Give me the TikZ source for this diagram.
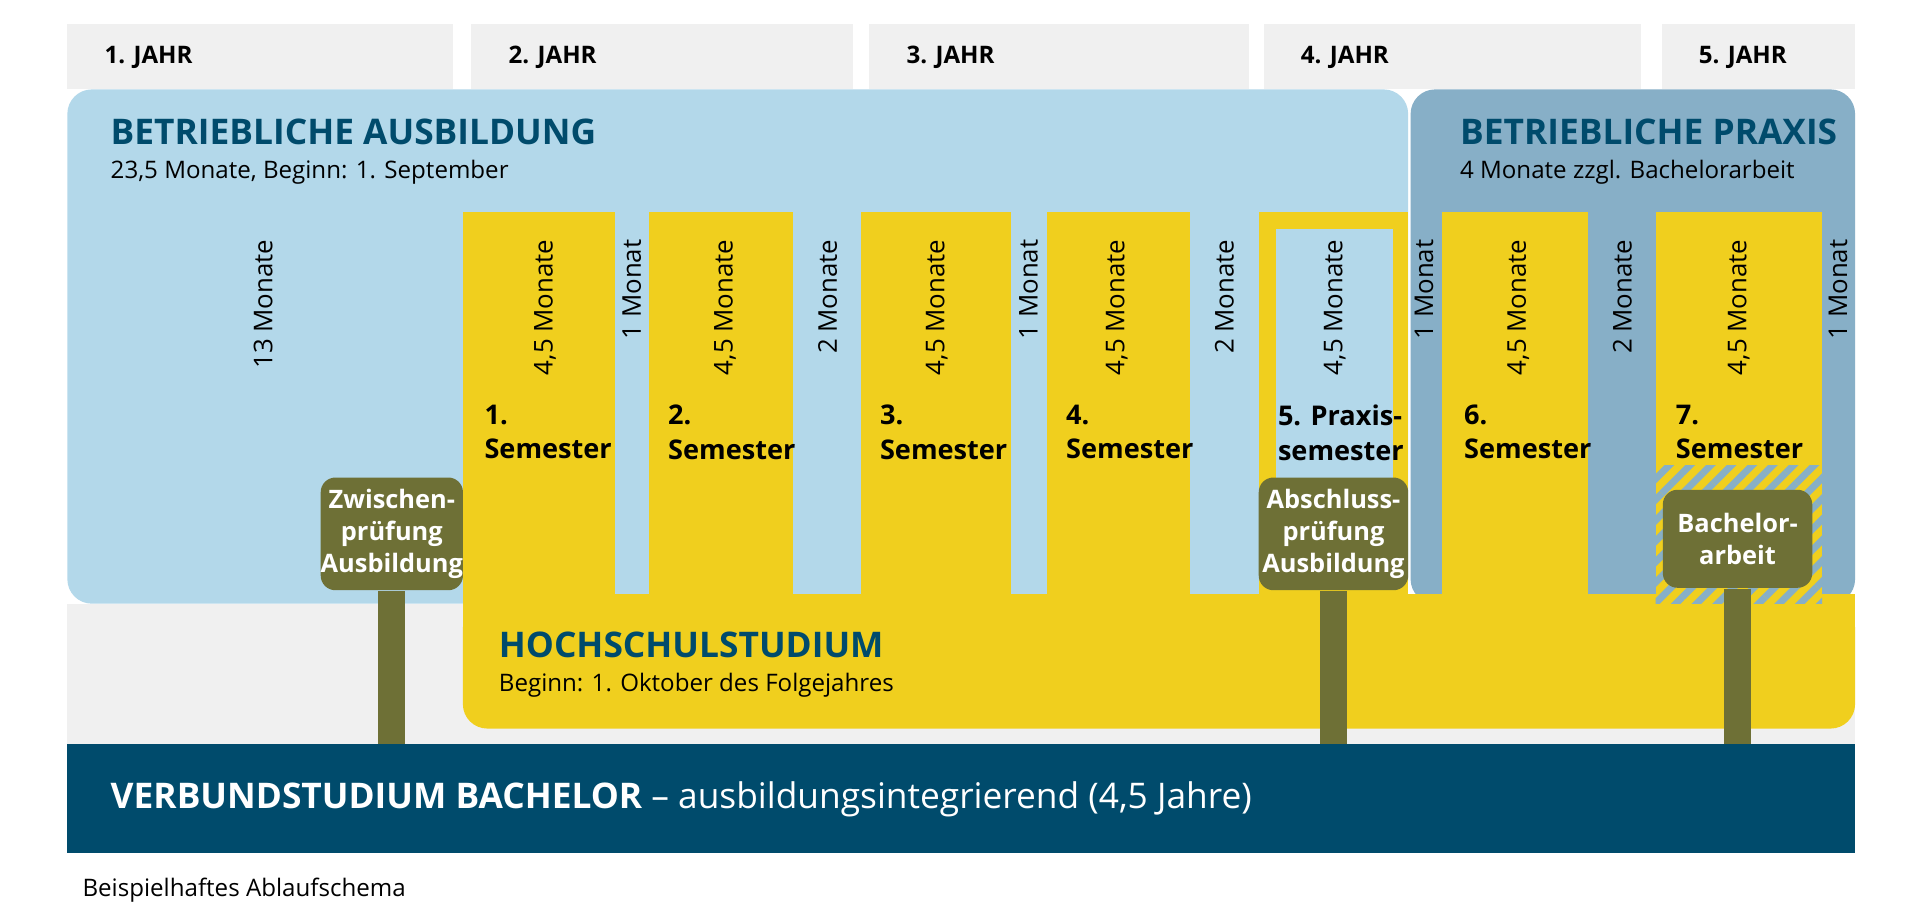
\documentclass[tikz,border=0pt]{standalone}
\usepackage{fontspec}
\setmainfont{Open Sans}
\usetikzlibrary{patterns.meta}
\definecolor{grayhd}{HTML}{F0F0F0}
\definecolor{lblue}{HTML}{B3D8EA}
\definecolor{dblue}{HTML}{87AFC7}
\definecolor{yell}{HTML}{F0CF1E}
\definecolor{olive}{HTML}{6E7036}
\definecolor{navy}{HTML}{004B6C}
\tikzset{
  year/.style={anchor=west,font=\fontsize{5.6}{6.5}\selectfont\bfseries},
  title/.style={anchor=west,text=navy,font=\fontsize{8.2}{9}\selectfont\bfseries},
  sub/.style={anchor=west,font=\fontsize{5.6}{6.5}\selectfont},
  dur/.style={rotate=90,anchor=east,inner sep=0pt,font=\fontsize{6}{7}\selectfont},
  sem/.style={anchor=north west,align=left,inner sep=0pt,font=\fontsize{6.3}{8}\selectfont\bfseries},
  exam/.style={fill=olive,rounded corners=0.12cm,text=white,align=center,inner sep=0pt,
    font=\fontsize{5.9}{7.4}\selectfont\bfseries},
  stem/.style={olive,line width=0.22cm},
}
\begin{document}
\begin{tikzpicture}[x=0.01cm,y=-0.01cm]
\useasboundingbox[fill=white] (0,0) rectangle (1568,745.6);
% years
\foreach \a/\b/\t in {55/370/1,385/697/2,710/1020/3,1032/1340/4,1357/1515/5}{
  \fill[grayhd] (\a,20) rectangle (\b,73);
  \node[year] (y\t) at (\a+18,47) {\t. JAHR};
}
\fill[grayhd] (55,493) rectangle (1515,608);
% ausbildung / praxis
\fill[lblue,rounded corners=0.2cm] (55,493) -- (55,73) -- (1150,73) -- (1150,493) -- cycle;
\fill[dblue,rounded corners=0.2cm] (1152,493) -- (1152,73) -- (1515,73) -- (1515,493) -- cycle;
\fill[lblue] (1140,173) rectangle (1150,493);
% hochschulstudium
\fill[yell,rounded corners=0.2cm] (378,493) -- (378,595) -- (1515,595) -- (1515,493) -- cycle;
\fill[yell] (378,485) rectangle (1515,520);
\foreach \a/\b in {378/502,530/648,703/826,855/972,1028/1150,1178/1297,1352/1488}
  \fill[yell] (\a,173) rectangle (\b,493);
\fill[lblue] (1042,187) rectangle (1138,400);
% hatch
\pattern[pattern={Lines[angle=45,distance=3.4pt,line width=1.6pt]},pattern color=dblue]
  (1352,380) rectangle (1488,493);
\node[title] (ba) at (78,108) {BETRIEBLICHE AUSBILDUNG};
\node[sub] (bas) at (78,141) {23,5 Monate, Beginn: 1. September};
\node[title] (bp) at (1180,108) {BETRIEBLICHE PRAXIS};
\node[sub] (bps) at (1180,141) {4 Monate zzgl. Bachelorarbeit};
\node[title] (hs) at (395,527) {HOCHSCHULSTUDIUM};
\node[sub] (hss) at (395,560) {Beginn: 1. Oktober des Folgejahres};
% durations
\node[dur] (d0) at (215,195) {13 Monate};
\foreach \x/\t [count=\i] in {445/{4,5 Monate},516/{1 Monat},592/{4,5 Monate},676/{2 Monate},765/{4,5 Monate},840/{1 Monat},912/{4,5 Monate},1000/{2 Monate},1090/{4,5 Monate},1163/{1 Monat},1240/{4,5 Monate},1325/{2 Monate},1420/{4,5 Monate},1501/{1 Monat}}
  \node[dur] (d\i) at (\x,195) {\t};
% semesters
\foreach \x/\t [count=\i] in {395/{1.},545/{2.},718/{3.},870/{4.},1195/{6.},1368/{7.}}
  \node[sem] (s\i) at (\x,330) {\t\\Semester};
\node[sem] (s5) at (1043,330) {5. Praxis-\\semester};
% band
\fill[navy] (55,608) rectangle (1515,697);
\node[anchor=west,text=white,font=\fontsize{8.2}{9}\selectfont] (vb) at (78,653)
  {\textbf{VERBUNDSTUDIUM BACHELOR} -- ausbildungsintegrierend (4,5 Jahre)};
\coordinate (vbtop) at (0,608);
% exams
\node[exam,minimum width=1.16cm,minimum height=0.92cm] (zp) at (320,436) {Zwischen-\\prüfung\\Ausbildung};
\node[exam,minimum width=1.22cm,minimum height=0.92cm] (ap) at (1089,436) {Abschluss-\\prüfung\\Ausbildung};
\node[exam,minimum width=1.22cm,minimum height=0.8cm] (bt) at (1419,440) {Bachelor-\\arbeit};
\foreach \n in {zp,ap,bt}
  \draw[stem] (\n.south) -- (\n.south |- vbtop);
\node[anchor=west,font=\fontsize{5.6}{6.5}\selectfont] (cap) at (55,727) {Beispielhaftes Ablaufschema};
\end{tikzpicture}
\end{document}
